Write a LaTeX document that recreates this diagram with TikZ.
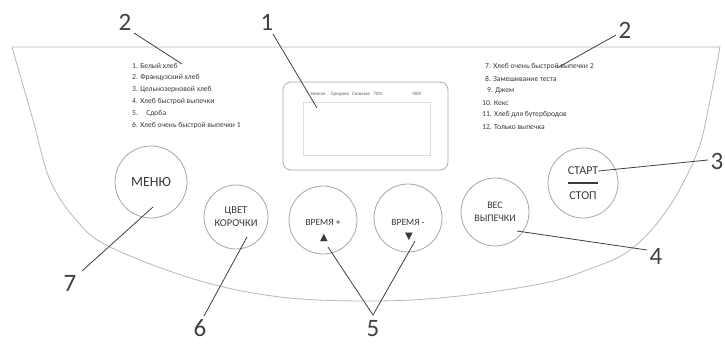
\documentclass[tikz,border=0pt]{standalone}
\usepackage{fontspec}
\setmainfont{Carlito}
\newfontfamily\symfont{DejaVu Sans}
\definecolor{ink}{HTML}{3A3A3A}
\definecolor{rim}{HTML}{B8B8B8}
\definecolor{btn}{HTML}{A6A6A6}
\definecolor{lead}{HTML}{404040}
\tikzset{
  panel/.style={draw=rim, line width=0.8pt},
  disp/.style={draw=btn, line width=0.7pt, rounded corners=8pt},
  faint/.style={draw=rim!50, line width=0.5pt},
  button/.style={circle, draw=btn, line width=0.8pt, inner sep=0pt, text=ink, align=center},
  leader/.style={draw=lead, line width=0.8pt},
  num/.style={text=lead, font=\fontsize{25}{25}\selectfont, inner sep=0pt},
  item/.style={text=ink, font=\fontsize{7.6}{8}\selectfont, anchor=west, inner sep=0pt},
  hdr/.style={text=ink!80, font=\fontsize{5}{5}\selectfont, inner sep=0pt},
}
\begin{document}
\begin{tikzpicture}[x=1pt,y=-1pt]
\useasboundingbox (0,0) rectangle (725,344);
\fill[white] (0,0) rectangle (725,344);
% panel outline
\draw[panel] plot[smooth, tension=0.6] coordinates {(720,47) (710,100) (697,153) (667,210) (630,250) (587,270) (540,284) (450,297) (370,301) (280,297) (197,280) (110,247) (77,221) (50,180) (33,120) (12,47)} -- cycle;
% display
\draw[disp] (283,82) rectangle (448,170);
\draw[faint] (303,102) rectangle (430,155);
\node[hdr] (h1) at (318,94) {Низкая};
\node[hdr] (h2) at (340,94) {Средняя};
\node[hdr] (h3) at (361,94) {Сильная};
\node[hdr] (h4) at (378,94) {700г};
\node[hdr] (h5) at (417,94) {900г};
% left list
\node[item] (l1) at (132,66) {1. Белый хлеб};
\node[item] (l2) at (132,78) {2. Французский хлеб};
\node[item] (l3) at (132,90) {3. Цельнозерновой хлеб};
\node[item] (l4) at (132,102) {4. Хлеб быстрой выпечки};
\node[item] (l5) at (132,114) {5.\hspace{6pt} Сдоба};
\node[item] (l6) at (132,126) {6. Хлеб очень быстрой выпечки 1};
% right list
\node[item] (r7) at (485,67) {7. Хлеб очень быстрой выпечки 2};
\node[item] (r8) at (485,79) {8. Замешивание теста};
\node[item] (r9) at (487,91) {9. Джем};
\node[item] (r10) at (482,103) {10. Кекс};
\node[item] (r11) at (482,115) {11. Хлеб для бутербродов};
\node[item] (r12) at (482,127) {12. Только выпечка};
% buttons
\node[button, minimum size=72pt, font=\fontsize{14}{14}\selectfont] (menu) at (151,182) {МЕНЮ};
\node[button, minimum size=64pt, font=\fontsize{10.5}{13}\selectfont] (crust) at (236,217) {ЦВЕТ\\КОРОЧКИ};
\node[button, minimum size=68pt] (tplus) at (323,220) {};
\node[button, minimum size=68pt] (tminus) at (408,218) {};
\node[button, minimum size=68pt, font=\fontsize{10}{13}\selectfont] (weight) at (495,212) {ВЕС\\ВЫПЕЧКИ};
\node[button, minimum size=70pt] (start) at (583,183) {};
\node[text=ink, font=\fontsize{9.5}{10}\selectfont, inner sep=0pt] (tpt) at (323,222) {ВРЕМЯ +};
\node[text=ink, font=\symfont\fontsize{10}{10}\selectfont, inner sep=0pt] (tpa) at (324,238) {▲};
\node[text=ink, font=\fontsize{9.5}{10}\selectfont, inner sep=0pt] (tmt) at (408,222) {ВРЕМЯ -};
\node[text=ink, font=\symfont\fontsize{10}{10}\selectfont, inner sep=0pt] (tma) at (409,237) {▼};
\node[text=ink, font=\fontsize{12}{12}\selectfont, inner sep=0pt] (st1) at (583,171) {СТАРТ};
\node[text=ink, font=\fontsize{12}{12}\selectfont, inner sep=0pt] (st2) at (583,196) {СТОП};
\coordinate (bar1) at ([yshift=-1pt]st1.south west |- 0,183);
\coordinate (bar2) at (st1.south east |- 0,183);
\draw[ink, line width=1.3pt] (st1.west |- 0,183) -- (st1.east |- 0,183);
% number labels
\node[num] (n2a) at (125,22) {2};
\node[num] (n1) at (267,22) {1};
\node[num] (n2b) at (625,30) {2};
\node[num] (n3) at (717,161) {3};
\node[num] (n4) at (656,256) {4};
\node[num] (n5) at (373,329) {5};
\node[num] (n6) at (200,328) {6};
\node[num] (n7) at (70,283) {7};
% leader ends
\coordinate (e2a) at (182,64);
\coordinate (e1) at (317,108);
\coordinate (e2b) at (557,68);
\coordinate (s2a) at (134,33);
\coordinate (s1) at (273,34);
\coordinate (s2b) at (616,35);
\coordinate (s3) at (708,160);
\coordinate (s4) at (647,250);
\coordinate (s5) at (373,315);
\coordinate (s6) at (204,316);
\coordinate (s7) at (82,271);
\coordinate (b7) at (153,207);
\coordinate (b6) at (247,237);
\coordinate (b5a) at (328,247);
\coordinate (b5b) at (415,241);
\coordinate (b4) at (517,231);
\draw[leader] (s2a) -- (e2a);
\draw[leader] (s1) -- (e1);
\draw[leader] (s2b) -- (e2b);
\draw[leader] (st1.east) -- (s3);
\draw[leader] (b4) -- (s4);
\draw[leader] (b5a) -- (s5) -- (b5b);
\draw[leader] (b6) -- (s6);
\draw[leader] (b7) -- (s7);
\end{tikzpicture}
\end{document}
